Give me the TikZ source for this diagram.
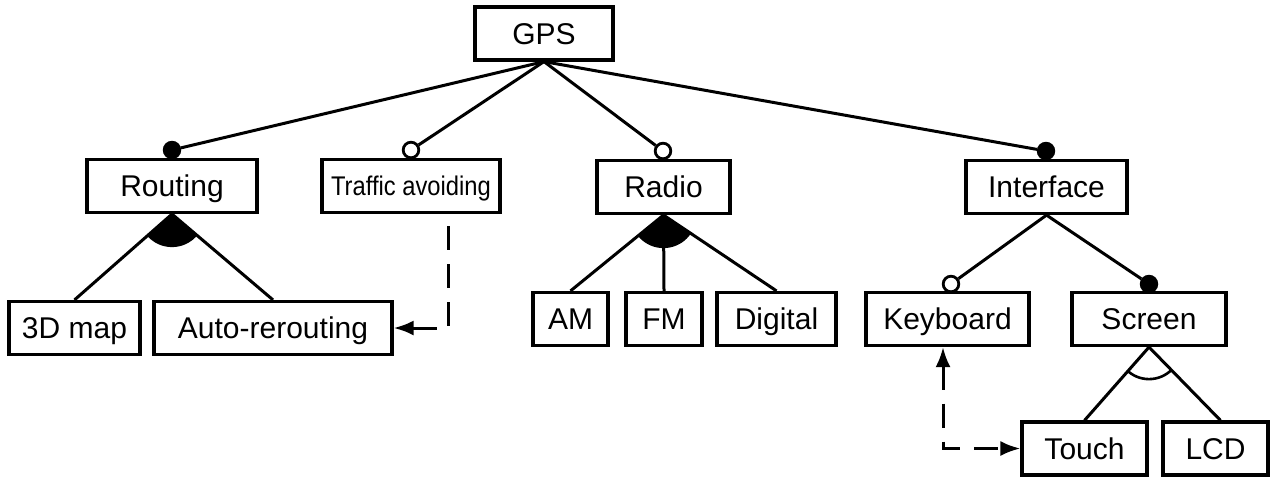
\documentclass[tikz,border=0pt]{standalone}
\usepackage{fontspec}
\setmainfont{Liberation Sans}
\usetikzlibrary{arrows.meta,calc}
\begin{document}
\begin{tikzpicture}[x=0.5pt,y=-0.5pt,
  feat/.style={draw,line width=1.6pt,inner sep=0pt,minimum height=26.5pt,
    text height=10.7pt,text depth=0pt,font=\fontsize{15}{17}\selectfont},
  conn/.style={line width=1.5pt},
  mand/.style={circle,draw,line width=1.4pt,fill=black,minimum size=7.8pt,inner sep=0pt},
  opt/.style={circle,draw,line width=1.4pt,fill=white,minimum size=7.8pt,inner sep=0pt},
  dep/.style={line width=1.5pt,dash pattern=on 12pt off 7pt,{Latex[length=10pt,width=7.5pt]}-{Latex[length=10pt,width=7.5pt]}},
  depone/.style={line width=1.5pt,dash pattern=on 12pt off 7pt,-{Latex[length=10pt,width=7.5pt]}}
]
\useasboundingbox (0,0) rectangle (1272,477);
% features
\node[feat,minimum width=69pt] (gps) at (544,33.5) {GPS};
\node[feat,minimum width=85pt] (routing) at (172,186) {Routing};
\node[feat,minimum width=89pt,text height=9.6pt] (traffic) at (411,186) {\fontsize{13.5}{16}\selectfont\scalebox{0.88}[1]{Traffic avoiding}};
\node[feat,minimum width=66.5pt] (radio) at (663.5,187) {Radio};
\node[feat,minimum width=80.5pt] (interface) at (1046.5,187) {Interface};
\node[feat,minimum width=65.5pt] (map) at (74.5,328) {3D map};
\node[feat,minimum width=119pt] (auto) at (273,328) {Auto-rerouting};
\node[feat,minimum width=37.5pt] (am) at (570.5,319) {AM};
\node[feat,minimum width=38pt] (fm) at (664,319) {FM};
\node[feat,minimum width=59.5pt] (digital) at (776.5,319) {Digital};
\node[feat,minimum width=81.5pt] (keyboard) at (947.5,319) {Keyboard};
\node[feat,minimum width=77pt] (screen) at (1149,319) {Screen};
\node[feat,minimum width=62.5pt] (touch) at (1084.5,448.5) {Touch};
\node[feat,minimum width=52.5pt] (lcd) at (1215.5,448.5) {LCD};
% markers
\node[mand] (mrouting) at (172,150) {};
\node[opt] (mtraffic) at (411,150) {};
\node[opt] (mradio) at (663,151) {};
\node[mand] (minterface) at (1046,151) {};
\node[opt] (mkeyboard) at (951,284) {};
\node[mand] (mscreen) at (1149,284) {};
% connectors
\draw[conn] (gps.south) -- (mrouting);
\draw[conn] (gps.south) -- (mtraffic);
\draw[conn] (gps.south) -- (mradio);
\draw[conn] (gps.south) -- (minterface);
\draw[conn] (interface.south) -- (mkeyboard);
\draw[conn] (interface.south) -- (mscreen);
\draw[conn] (routing.south) -- (map.north);
\draw[conn] (routing.south) -- (auto.north);
\draw[conn] (radio.south) -- (am.north);
\draw[conn] (radio.south) -- (fm.north);
\draw[conn] (radio.south) -- (digital.north);
\coordinate (lcdtop) at ([xshift=2.5pt]lcd.north);
\draw[conn] (screen.south) -- (touch.north);
\draw[conn] (screen.south) -- (lcdtop);
% group arcs
\begin{scope}
  \clip (routing.south) -- (map.north) -- (auto.north) -- cycle;
  \fill (routing.south) circle (16.5pt);
\end{scope}
\begin{scope}
  \clip (radio.south) -- (am.north) -- (digital.north) -- cycle;
  \fill (radio.south) circle (16.5pt);
\end{scope}
\begin{scope}
  \clip (screen.south) -- (touch.north) -- (lcdtop) -- cycle;
  \draw[line width=1.3pt] (screen.south) circle (16pt);
\end{scope}
% dependencies
\coordinate (tstart) at ($(traffic.south east)+(-53,12)$);
\draw[depone] (tstart) |- (auto.east);
\draw[dep] ([xshift=-2.25pt]keyboard.south) |- (touch.west);
\end{tikzpicture}
\end{document}
